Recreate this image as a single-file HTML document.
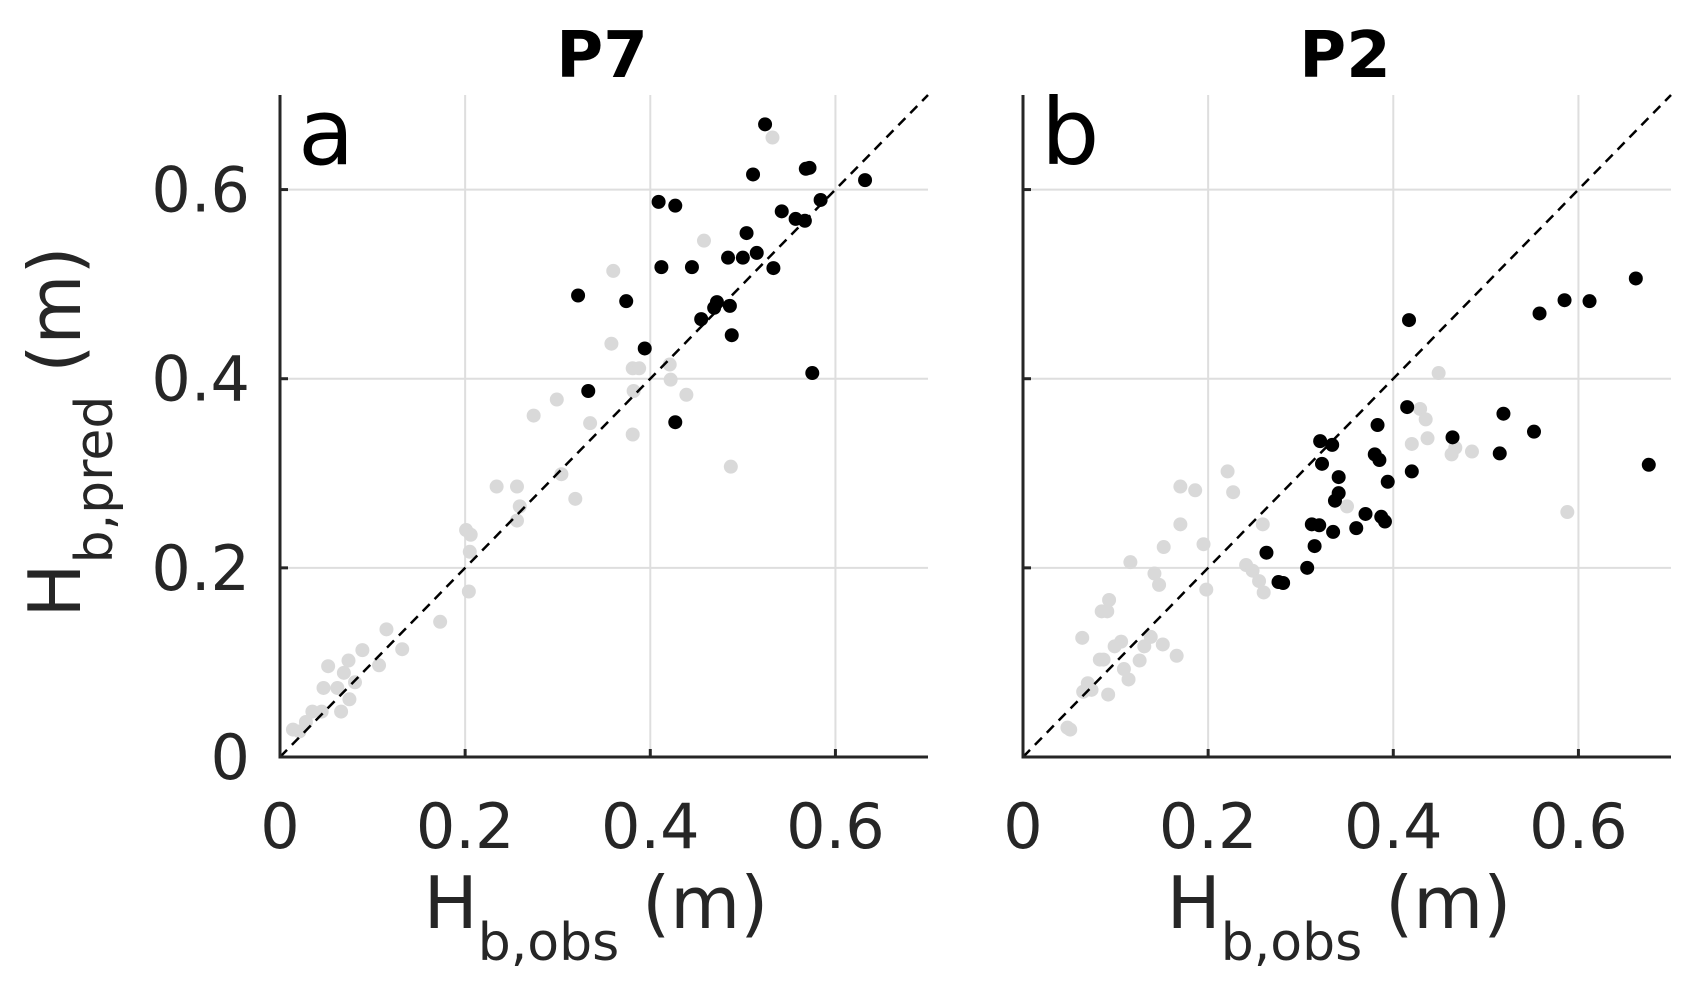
<!DOCTYPE html>
<html><head><meta charset="utf-8"><style>
html,body{margin:0;padding:0;background:#fff;}
svg{display:block;}
</style></head><body>
<svg id="fig" width="1693" height="996" viewBox="0 0 1693 996" xmlns="http://www.w3.org/2000/svg" font-family="'DejaVu Sans','Liberation Sans',sans-serif"></svg>
<script>
const ticks = [0, 0.2, 0.4, 0.6];
const tickLabels = ["0", "0.2", "0.4", "0.6"];
const titles = ["P7", "P2"];
const letters = ["a", "b"];
const p7BlackX = [0.524,0.511,0.568,0.572,0.632,0.584,0.409,0.427,0.542,0.557,0.567,0.504,0.515,0.484,0.500,0.412,0.445,0.533,0.322,0.374,0.472,0.469,0.486,0.455,0.394,0.488,0.575,0.333,0.427];
const p7BlackY = [0.669,0.616,0.622,0.623,0.610,0.589,0.587,0.583,0.577,0.569,0.567,0.554,0.533,0.528,0.528,0.518,0.518,0.517,0.488,0.482,0.481,0.475,0.477,0.463,0.432,0.446,0.406,0.387,0.354];
const p7GrayX = [0.532,0.458,0.360,0.358,0.381,0.388,0.421,0.422,0.382,0.299,0.274,0.439,0.335,0.381,0.487,0.304,0.319,0.234,0.256,0.259,0.256,0.201,0.206,0.205,0.204,0.173,0.115,0.132,0.089,0.107,0.069,0.052,0.074,0.081,0.062,0.047,0.075,0.066,0.045,0.035,0.028,0.014,0.021];
const p7GrayY = [0.655,0.546,0.514,0.437,0.411,0.411,0.415,0.399,0.387,0.378,0.361,0.383,0.353,0.341,0.307,0.299,0.273,0.286,0.286,0.265,0.250,0.240,0.235,0.217,0.175,0.143,0.135,0.114,0.113,0.097,0.089,0.096,0.102,0.079,0.073,0.073,0.061,0.048,0.048,0.048,0.037,0.029,0.027];
const p2BlackX = [0.662,0.585,0.612,0.558,0.417,0.676,0.519,0.552,0.515,0.415,0.464,0.383,0.321,0.334,0.323,0.341,0.380,0.385,0.420,0.394,0.341,0.337,0.370,0.387,0.391,0.360,0.335,0.312,0.320,0.315,0.263,0.307,0.276,0.281];
const p2BlackY = [0.506,0.483,0.482,0.469,0.462,0.309,0.363,0.344,0.321,0.370,0.338,0.351,0.334,0.330,0.310,0.296,0.320,0.314,0.302,0.291,0.279,0.271,0.257,0.254,0.249,0.242,0.238,0.246,0.245,0.223,0.216,0.200,0.185,0.184];
const p2GrayX = [0.449,0.429,0.435,0.437,0.467,0.485,0.420,0.463,0.588,0.350,0.221,0.170,0.186,0.227,0.170,0.152,0.259,0.195,0.198,0.116,0.142,0.147,0.241,0.248,0.255,0.260,0.093,0.085,0.091,0.064,0.106,0.099,0.138,0.131,0.151,0.166,0.126,0.083,0.087,0.109,0.114,0.070,0.065,0.074,0.092,0.048,0.051];
const p2GrayY = [0.406,0.368,0.357,0.337,0.327,0.323,0.331,0.320,0.259,0.265,0.302,0.286,0.282,0.280,0.246,0.222,0.246,0.225,0.177,0.206,0.194,0.182,0.203,0.197,0.186,0.174,0.166,0.154,0.154,0.126,0.122,0.117,0.127,0.117,0.119,0.107,0.102,0.103,0.103,0.093,0.082,0.078,0.069,0.071,0.066,0.031,0.029];

const NS = "http://www.w3.org/2000/svg";
const svg = document.getElementById('fig');
function mk(tag, attrs, parent){const e=document.createElementNS(NS,tag);for(const k in attrs)e.setAttribute(k,attrs[k]);(parent||svg).appendChild(e);return e;}

const panels = [
  {left:280, gx:p7GrayX, gy:p7GrayY, bx:p7BlackX, by:p7BlackY, ylabels:true},
  {left:1023, gx:p2GrayX, gy:p2GrayY, bx:p2BlackX, by:p2BlackY, ylabels:false}
];
const W = 648, yTop = 95, yBottom = 757, VMAX = 0.7;
panels.forEach((p, i) => {
  const sx = v => p.left + v / VMAX * W;
  const sy = v => yBottom - v / VMAX * (yBottom - yTop);
  const g = mk('g', {});
  
  
  ticks.forEach(t => {
    if (t === 0) return;
    const gv = mk('line', {x1:sx(t), x2:sx(t), y1:yTop, y2:yBottom, stroke:'#dedede', 'stroke-width':2}, g);
    
    
    const gh = mk('line', {x1:p.left, x2:p.left+W, y1:sy(t), y2:sy(t), stroke:'#dedede', 'stroke-width':2}, g);
    
    
  });
  p.gx.forEach((x, k) => {
    const c = mk('circle', {cx:sx(x), cy:sy(p.gy[k]), r:7, fill:'#d9d9d9'}, g);
    
    
  });
  const d = mk('line', {x1:sx(0), y1:sy(0), x2:sx(0.7), y2:sy(0.7), stroke:'#000', 'stroke-width':2.5, 'stroke-dasharray':'10 7'}, g);
  
  
  p.bx.forEach((x, k) => {
    const c = mk('circle', {cx:sx(x), cy:sy(p.by[k]), r:7, fill:'#000'}, g);
    
    
  });
  const ax = mk('path', {d:`M${p.left},${yTop} V${yBottom} H${p.left+W}`, fill:'none', stroke:'#262626', 'stroke-width':3}, g);
  
  
  ticks.forEach((t, k) => {
    const tx = mk('line', {x1:sx(t), x2:sx(t), y1:yBottom, y2:yBottom-8, stroke:'#262626', 'stroke-width':3}, g);
    
    
    const ty = mk('line', {x1:p.left, x2:p.left+8, y1:sy(t), y2:sy(t), stroke:'#262626', 'stroke-width':3}, g);
    
    
    const xl = mk('text', {x:sx(t), y:848, 'text-anchor':'middle', 'font-size':62, fill:'#262626'}, g);
    xl.textContent = tickLabels[k];
    
    
    if (p.ylabels) {
      const yl = mk('text', {x:p.left-30, y:sy(t)+22, 'text-anchor':'end', 'font-size':62, fill:'#262626'}, g);
      yl.textContent = tickLabels[k];
      
      
    }
  });
  const ti = mk('text', {x:p.left+322, y:77, 'text-anchor':'middle', 'font-size':64, 'font-weight':'bold', fill:'#000'}, g);
  ti.textContent = titles[i];
  
  
  const le = mk('text', {x:p.left+18, y:164, 'font-size':92, fill:'#000'}, g);
  le.textContent = letters[i];
  
  
  const xt = mk('text', {x:p.left+W/2-8, y:928, 'text-anchor':'middle', 'font-size':72, fill:'#262626'}, g);
  xt.innerHTML = 'H<tspan font-size="52" dy="32">b,obs</tspan><tspan dy="-32"> (m)</tspan>';
  
  
});
const yt = mk('text', {x:0, y:0, 'text-anchor':'middle', 'font-size':72, fill:'#262626', transform:'translate(80,432) rotate(-90)'});
yt.innerHTML = 'H<tspan font-size="52" dy="32">b,pred</tspan><tspan dy="-32"> (m)</tspan>';


</script>
</body></html>
